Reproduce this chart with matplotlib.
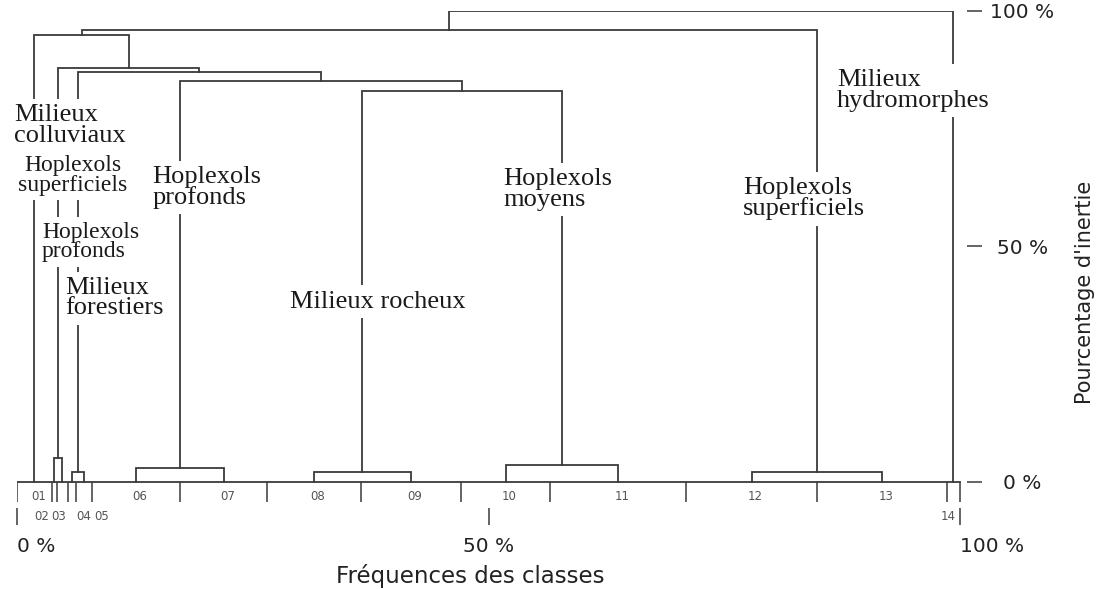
import numpy as np
import matplotlib
matplotlib.use('Agg')
from matplotlib import pyplot as plt

# class frequencies (% of sites), in dendrogram order
class_codes = ['01', '02', '03', '04', '05', '06', '07', '08', '09', '10', '11', '12', '13', '14']
class_freq = [3.7, 0.5, 1.2, 0.8, 1.7, 9.4, 9.2, 9.9, 10.6, 9.5, 14.4, 13.9, 13.7, 1.4]

# merges: leaves are 0..13, each merge creates node 14, 15, ...
merge_left = [1, 3, 5, 7, 9, 11, 17, 16, 15, 14, 0, 24, 25]
merge_right = [2, 4, 6, 8, 10, 12, 18, 20, 21, 22, 23, 19, 13]
merge_height = [5.0, 2.2, 2.9, 2.2, 3.6, 2.2, 83.0, 85.1, 87.0, 87.9, 95.0, 96.0, 100.0]

group_names = ['Milieux\ncolluviaux', 'Hoplexols\nsuperficiels', 'Hoplexols\nprofonds', 'Milieux\nforestiers',
               'Hoplexols\nprofonds', 'Milieux rocheux', 'Hoplexols\nmoyens', 'Hoplexols\nsuperficiels',
               'Milieux\nhydromorphes']

freq_ticks = [0, 50, 100]
freq_tick_labels = ['0 %', '50 %', '100 %']
inertia_ticks = [0, 50, 100]
inertia_tick_labels = ['0 %', '50 %', '100 %']

LINE = '#3a3a3a'
SERIF = 'Liberation Serif'
SANS = 'DejaVu Sans'

fig = plt.figure(figsize=(11.04, 5.89), dpi=100)
ax = fig.add_axes([17 / 1104, 64 / 589, 950 / 1104, 514 / 589])
ax.set_xlim(0, 100.74)
ax.set_ylim(-9.13, 100)
for side in ax.spines.values():
    side.set_visible(False)

# class boundaries and leaf positions
edges = np.concatenate([[0], np.cumsum(class_freq)])
edges = edges / edges[-1] * 100
leaf_x = (edges[:-1] + edges[1:]) / 2

ax.plot([0, 100], [0, 0], color=LINE, lw=1.3, zorder=2)
ax.vlines(edges, -4.25, 0, color=LINE, lw=1.1, zorder=2)

# dendrogram
node_x = list(leaf_x)
node_h = [0.0] * len(leaf_x)
for a, b, h in zip(merge_left, merge_right, merge_height):
    ax.plot([node_x[a], node_x[a], node_x[b], node_x[b]], [node_h[a], h, h, node_h[b]],
            color=LINE, lw=1.3, zorder=2, solid_joinstyle='miter')
    node_x.append((node_x[a] + node_x[b]) / 2)
    node_h.append(h)

# class codes under the baseline (narrow classes go to a second row)
second_row = {1: -1.3, 2: -0.4, 3: 1.3, 4: 1.9, 13: -0.6}
for i, code in enumerate(class_codes):
    if i in second_row:
        x, y = leaf_x[i] + second_row[i], -7.4
    else:
        x, y = leaf_x[i] + 0.4, -3.0
    ax.text(x, y, code, ha='center', va='center', fontsize=8.5, family=SANS, color='#555555')

# group names, drawn over the branches
label_layout = [(-0.32, 80.2, 19, 'left'), (5.94, 69.4, 17, 'center'), (2.65, 55.2, 17, 'left'),
                (5.09, 43.5, 19, 'left'), (14.32, 67.1, 19, 'left'), (28.95, 40.6, 19, 'left'),
                (51.54, 66.6, 19, 'left'), (76.99, 64.7, 19, 'left'), (86.96, 87.6, 19, 'left')]
for name, (x, y, size, ha) in zip(group_names, label_layout):
    ax.text(x, y, name, ha=ha, va='top', multialignment=ha, fontsize=size, family=SERIF,
            linespacing=0.9, color='#1a1a1a', zorder=5,
            bbox=dict(boxstyle='square,pad=0.2', facecolor='white', edgecolor='none'))

# frequency axis
ax.set_xticks(freq_ticks)
ax.set_xticklabels(freq_tick_labels)
for lab, ha in zip(ax.get_xticklabels(), ['left', 'center', 'left']):
    lab.set_ha(ha)
ax.tick_params(axis='x', direction='in', length=12, width=1.1, color=LINE, pad=9,
               labelsize=14.5, labelcolor='#222222')
ax.set_xlabel('Fréquences des classes', fontsize=16.5, family=SANS, color='#222222')
ax.xaxis.set_label_coords(0.477, -0.075)

# inertia axis
ax.yaxis.tick_right()
ax.set_yticks(inertia_ticks)
ax.set_yticklabels(inertia_tick_labels, ha='center')
ax.tick_params(axis='y', direction='out', length=10.5, width=1.1, color=LINE, pad=29.5,
               labelsize=14.5, labelcolor='#222222')
ax.text(1.124, 0.453, "Pourcentage d'inertie", transform=ax.transAxes, rotation=90,
        ha='center', va='center', fontsize=15, family=SANS, color='#222222')

for lab in ax.get_xticklabels() + ax.get_yticklabels():
    lab.set_family(SANS)

fig.savefig('out.png', dpi=100)
